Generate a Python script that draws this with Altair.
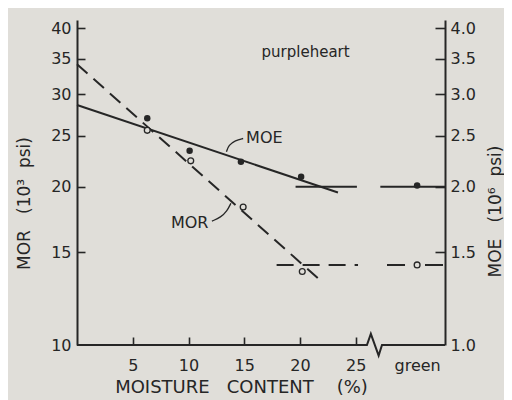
import altair as alt
import pandas as pd

BG = "#e0ded9"
INK = "#262626"
FONT = "DejaVu Sans"

# ---- data ----
GREEN = 30.5                      # x position used for "green" wood
mc_mor = [6.3, 10.2, 14.9, 20.2]  # moisture content (%)
mor_vals = [25.6, 22.4, 18.3, 13.8]   # MOR, 10^3 psi (open circles)
mor_green = 14.2
mc_moe = [6.3, 10.1, 14.7, 20.1]
moe_vals = [2.70, 2.34, 2.23, 2.09]   # MOE, 10^6 psi (filled circles)
moe_green = 2.01

mor_fit_x = [0.0, 21.6]
mor_fit_y = [34.2, 13.4]
moe_fit_x = [0.0, 23.4]
moe_fit_y = [2.86, 1.95]

mor_plateau_x = [17.9, 25.2, 27.8, 33.0]
mor_plateau_seg = [1, 1, 2, 2]
mor_plateau_y = 14.2
moe_plateau_x = [19.6, 25.1, 27.2, 33.0]
moe_plateau_seg = [1, 1, 2, 2]
moe_plateau_y = 2.0

baseline_x = [0.0, 26.0, 26.35, 27.05, 27.35, 33.0]
baseline_y = [10, 10, 10.5, 9.55, 10, 10]

x_ticks = [5, 10, 15, 20, 25]
x_label_vals = [5, 10, 15, 20, 25, GREEN]
mor_ticks = [15, 20, 25, 30, 35, 40]
mor_labels = [10, 15, 20, 25, 30, 35, 40]
moe_ticks = [1.5, 2.0, 2.5, 3.0, 3.5, 4.0]
moe_labels = [1.0, 1.5, 2.0, 2.5, 3.0, 3.5, 4.0]

note_text = ["purpleheart", "MOE", "MOR"]
note_x = [20.5, 16.8, 10.1]
note_y = [36.0, 24.8, 17.05]
note_size = [15, 16, 16]

moe_leader_x = [14.9, 14.2, 13.6, 13.4]
moe_leader_y = [24.7, 24.5, 24.0, 23.3]
mor_leader_x = [12.1, 12.9, 13.45, 13.8]
mor_leader_y = [17.2, 17.5, 17.97, 18.6]

# ---- tables ----
mor_pts = pd.DataFrame({"mc": mc_mor + [GREEN], "v": mor_vals + [mor_green]})
moe_pts = pd.DataFrame({"mc": mc_moe + [GREEN], "v": moe_vals + [moe_green]})
mor_fit = pd.DataFrame({"mc": mor_fit_x, "v": mor_fit_y})
moe_fit = pd.DataFrame({"mc": moe_fit_x, "v": moe_fit_y})
mor_plat = pd.DataFrame({"mc": mor_plateau_x, "seg": mor_plateau_seg,
                         "v": [mor_plateau_y] * len(mor_plateau_x)})
moe_plat = pd.DataFrame({"mc": moe_plateau_x, "seg": moe_plateau_seg,
                         "v": [moe_plateau_y] * len(moe_plateau_x)})
base = pd.DataFrame({"mc": baseline_x, "v": baseline_y, "o": list(range(len(baseline_x)))})
notes = pd.DataFrame({"mc": note_x, "v": note_y, "t": note_text, "s": note_size})
leaders = pd.DataFrame({
    "mc": moe_leader_x + mor_leader_x,
    "v": moe_leader_y + mor_leader_y,
    "g": ["moe"] * 4 + ["mor"] * 4,
    "o": list(range(4)) * 2,
})

XS = alt.Scale(domain=[0, 33], nice=False, zero=False)
YMOR = alt.Scale(type="log", domain=[10, 41.5], nice=False)
YMOE = alt.Scale(type="log", domain=[1, 4.15], nice=False)

def xenc(axis=None):
    return alt.X("mc:Q", scale=XS, axis=axis)

def ymor(axis=None):
    return alt.Y("v:Q", scale=YMOR, axis=axis)

def ymoe(axis=None):
    return alt.Y("v:Q", scale=YMOE, axis=axis)

NB = "\u00a0"

x_label_axis = alt.Axis(
    orient="bottom", values=x_label_vals, format="d",
    labelExpr="datum.value > 29 ? 'green' : datum.label",
    domain=False, ticks=False, tickSize=0, grid=False,
    labelPadding=12, labelFontSize=16, labelFont=FONT, labelColor=INK,
    labelFlush=False, labelOverlap=False,
    title="MOISTURE" + NB * 3 + "CONTENT" + NB * 4 + "(%)",
    titleFont=FONT, titleFontSize=18, titleFontWeight="normal", titleColor=INK,
    titleX=164, titleY=47, titleAnchor="middle", titleAlign="center",
    titleBaseline="alphabetic",
)
x_tick_axis = alt.Axis(
    orient="bottom", values=x_ticks, labels=False, domain=False, grid=False,
    ticks=True, tickSize=8, tickWidth=1.6, tickColor=INK, offset=-8, title=None,
)
mor_label_axis = alt.Axis(
    orient="left", values=mor_labels, format="d", grid=False,
    domain=True, domainColor=INK, domainWidth=2,
    ticks=False, tickSize=0, labelPadding=6,
    labelFontSize=16, labelFont=FONT, labelColor=INK,
    labelFlush=False, labelOverlap=False,
    title="MOR" + NB * 3 + "(10³" + NB * 2 + "psi)", titleFont=FONT, titleFontSize=17,
    titleFontWeight="normal", titleColor=INK,
    titleX=-53, titleY=183, titleAngle=270, titleAlign="center",
    titleBaseline="middle",
)
mor_tick_axis = alt.Axis(
    orient="left", values=mor_ticks, labels=False, domain=False, grid=False,
    ticks=True, tickSize=8, tickWidth=1.6, tickColor=INK, offset=-8, title=None,
)
moe_label_axis = alt.Axis(
    orient="right", values=moe_labels, format=".1f", grid=False,
    domain=True, domainColor=INK, domainWidth=2,
    ticks=False, tickSize=0, labelPadding=5,
    labelFontSize=16, labelFont=FONT, labelColor=INK,
    labelFlush=False, labelOverlap=False,
    title="MOE" + NB * 3 + "(10⁶" + NB * 2 + "psi)", titleFont=FONT, titleFontSize=17,
    titleFontWeight="normal", titleColor=INK,
    titleX=50, titleY=191, titleAngle=270, titleAlign="center",
    titleBaseline="middle",
)
moe_tick_axis = alt.Axis(
    orient="right", values=moe_ticks, labels=False, domain=False, grid=False,
    ticks=True, tickSize=10, tickWidth=1.6, tickColor=INK, offset=-10, title=None,
)

# baseline with break (carries x labels + left axis)
l_base = alt.Chart(base).mark_line(color=INK, strokeWidth=2).encode(
    x=xenc(x_label_axis), y=ymor(mor_label_axis), order="o:Q")

# tick-only axes
l_xticks = alt.Chart(mor_pts).mark_point(opacity=0).encode(
    x=xenc(x_tick_axis), y=ymor(mor_tick_axis))

# MOE fit + plateau (right axis)
l_moe_fit = alt.Chart(moe_fit).mark_line(color=INK, strokeWidth=2).encode(
    x=xenc(), y=ymoe(moe_label_axis))
l_moe_ticks = alt.Chart(moe_pts).mark_point(opacity=0).encode(
    x=xenc(), y=ymoe(moe_tick_axis))
l_moe_plat = alt.Chart(moe_plat).mark_line(color=INK, strokeWidth=2).encode(
    x=xenc(), y=ymoe(), detail="seg:N")

# MOR fit + plateau (dashed)
l_mor_fit = alt.Chart(mor_fit).mark_line(color=INK, strokeWidth=2, strokeDash=[14, 8]).encode(
    x=xenc(), y=ymor())
l_mor_plat = alt.Chart(mor_plat).mark_line(color=INK, strokeWidth=2).encode(
    x=xenc(), y=ymor(), detail="seg:N",
    strokeDash=alt.StrokeDash("seg:N", scale=alt.Scale(domain=[1, 2], range=[[17, 9], [18, 20]]),
                              legend=None))

# leaders
l_lead = alt.Chart(leaders).mark_line(color=INK, strokeWidth=1.3, interpolate="basis").encode(
    x=xenc(), y=ymor(), detail="g:N", order="o:Q")

# points
l_moe_pts = alt.Chart(moe_pts).mark_point(filled=True, shape="circle", size=42, color=INK, opacity=1).encode(
    x=xenc(), y=ymoe())
l_mor_pts = alt.Chart(mor_pts).mark_point(shape="circle", size=34, fill=BG, fillOpacity=1,
                                          stroke=INK, strokeWidth=1.3, opacity=1).encode(
    x=xenc(), y=ymor())

# text notes
l_notes = alt.Chart(notes).mark_text(font=FONT, color=INK, align="center", baseline="middle").encode(
    x=xenc(), y=ymor(), text="t:N", size=alt.Size("s:Q", scale=None, legend=None))

chart = alt.layer(
    l_base, l_xticks, l_moe_fit, l_moe_ticks, l_moe_plat, l_mor_fit, l_mor_plat,
    l_lead, l_moe_pts, l_mor_pts, l_notes,
).resolve_scale(y="independent").resolve_axis(x="independent", y="independent").properties(
    width=368, height=325,
    background=BG,
    padding={"left": 69, "top": 12, "right": 59, "bottom": 55},
    autosize=alt.AutoSizeParams(type="none"),
).configure_view(stroke=None)

chart.save("out.html", embed_options={"renderer": "svg", "actions": False})
